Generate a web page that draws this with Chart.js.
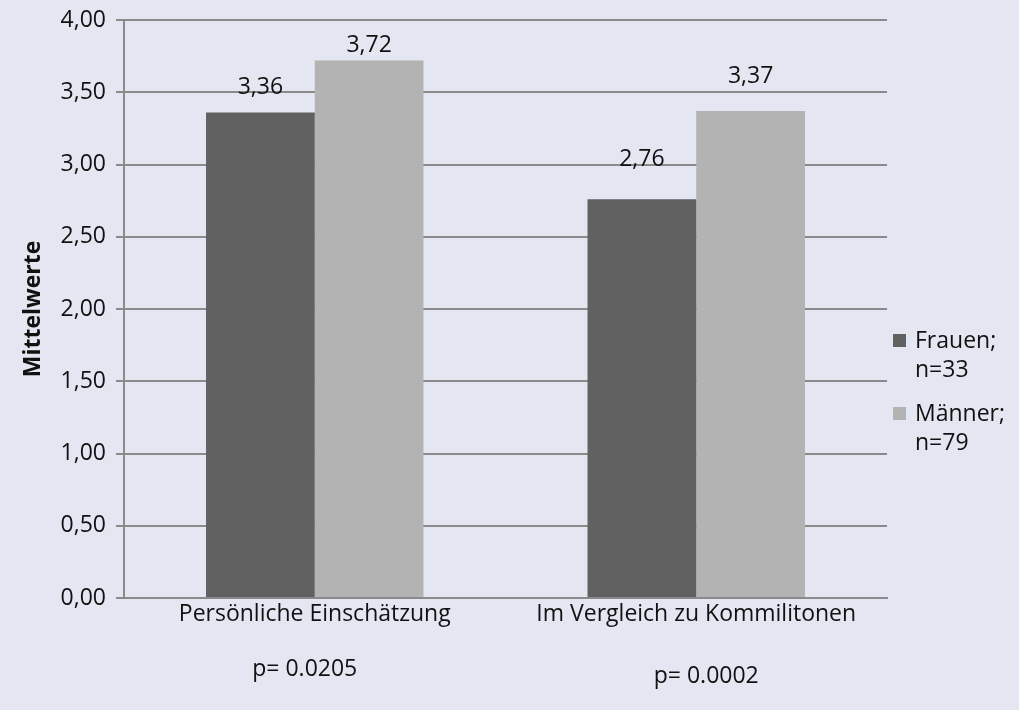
<!DOCTYPE html>
<html>
<head>
<meta charset="utf-8">
<script src="https://cdn.jsdelivr.net/npm/chart.js@4/dist/chart.umd.min.js"></script>
<style>
  html, body { margin: 0; padding: 0; background: #E4E6F1; }
  #wrap { width: 1019px; height: 710px; position: relative; }
</style>
</head>
<body>
<div id="wrap"><canvas id="chart"></canvas></div>
<script>
// data
var categories = ['Persönliche Einschätzung', 'Im Vergleich zu Kommilitonen'];
var series_names = ['Frauen; n=33', 'Männer; n=79'];
var frauen = [3.36, 2.76];
var maenner = [3.72, 3.37];
var p_values = ['p= 0.0205', 'p= 0.0002'];

var clr_dark = '#616161';
var clr_light = '#B3B3B3';
var clr_grid = '#8A8A8A';
var clr_text = '#111111';
var font_family = "'Open Sans', sans-serif";
var font_size = 23;

function fmt(v) {
  return v.toFixed(2).replace('.', ',');
}

// background fill
var bg_plugin = {
  id: 'bg',
  beforeDraw: function(chart) {
    var ctx = chart.ctx;
    ctx.save();
    ctx.fillStyle = '#E4E6F1';
    ctx.fillRect(0, 0, chart.width, chart.height);
    ctx.restore();
  }
};

// value labels above bars (offsets are where Excel put them)
var label_offsets = [[18, 33], [8, 28]];
var value_labels = {
  id: 'valueLabels',
  afterDatasetsDraw: function(chart) {
    var ctx = chart.ctx;
    ctx.save();
    ctx.font = font_size + 'px ' + font_family;
    ctx.fillStyle = clr_text;
    ctx.textAlign = 'center';
    ctx.textBaseline = 'alphabetic';
    chart.data.datasets.forEach(function(ds, d) {
      var meta = chart.getDatasetMeta(d);
      meta.data.forEach(function(bar, i) {
        ctx.fillText(fmt(ds.data[i]), bar.x, bar.y - label_offsets[d][i]);
      });
    });
    ctx.restore();
  }
};

// p-values under the category labels
var p_dx = [-10, 10];
var p_y = [676, 683];
var p_labels = {
  id: 'pLabels',
  afterDraw: function(chart) {
    var ctx = chart.ctx;
    var xs = chart.scales.x;
    ctx.save();
    ctx.font = font_size + 'px ' + font_family;
    ctx.fillStyle = clr_text;
    ctx.textAlign = 'center';
    ctx.textBaseline = 'alphabetic';
    p_values.forEach(function(p, i) {
      ctx.fillText(p, xs.getPixelForValue(i) + p_dx[i], p_y[i]);
    });
    ctx.restore();
  }
};

// legend on the right, wrapped like in Excel
var side_legend = {
  id: 'sideLegend',
  afterDraw: function(chart) {
    var ctx = chart.ctx;
    var top = [348, 421];
    ctx.save();
    ctx.font = font_size + 'px ' + font_family;
    ctx.textBaseline = 'alphabetic';
    ctx.textAlign = 'left';
    chart.data.datasets.forEach(function(ds, d) {
      ctx.fillStyle = ds.backgroundColor;
      ctx.fillRect(893, top[d] - 14, 13, 13);
      ctx.fillStyle = clr_text;
      var lines = ds.label.split(' ');
      lines.forEach(function(line, k) {
        ctx.fillText(line, 915, top[d] + k * 29);
      });
    });
    ctx.restore();
  }
};

var ctx = document.getElementById('chart');
window.myChart = new Chart(ctx, {
  type: 'bar',
  data: {
    labels: categories,
    datasets: [
      {
        label: series_names[0],
        data: frauen,
        backgroundColor: clr_dark,
        categoryPercentage: 0.57,
        barPercentage: 1.0
      },
      {
        label: series_names[1],
        data: maenner,
        backgroundColor: clr_light,
        categoryPercentage: 0.57,
        barPercentage: 1.0
      }
    ]
  },
  options: {
    responsive: true,
    maintainAspectRatio: false,
    animation: false,
    layout: {
      padding: { top: 20, right: 132, left: 0, bottom: 0 }
    },
    scales: {
      x: {
        grid: { display: false, drawTicks: false },
        border: { display: true, color: clr_grid, width: 2 },
        ticks: {
          color: clr_text,
          padding: 3,
          maxRotation: 0,
          font: { family: font_family, size: font_size }
        },
        afterFit: function(scale) { scale.height = 112; }
      },
      y: {
        min: 0,
        max: 4,
        grid: { color: clr_grid, lineWidth: 2, tickLength: 8 },
        border: { display: true, color: clr_grid, width: 2 },
        ticks: {
          stepSize: 0.5,
          padding: 10,
          color: clr_text,
          font: { family: font_family, size: font_size },
          callback: function(v) { return fmt(v); }
        },
        title: {
          display: true,
          text: 'Mittelwerte',
          color: clr_text,
          padding: { top: 20, bottom: 0 },
          font: { family: font_family, size: font_size, weight: 'bold' }
        },
        afterFit: function(scale) {
          scale.width = 124;
          scale.paddingTop = 0;
        }
      }
    },
    plugins: {
      legend: { display: false },
      tooltip: { enabled: false }
    }
  },
  plugins: [bg_plugin, value_labels, p_labels, side_legend]
});
</script>
</body>
</html>
